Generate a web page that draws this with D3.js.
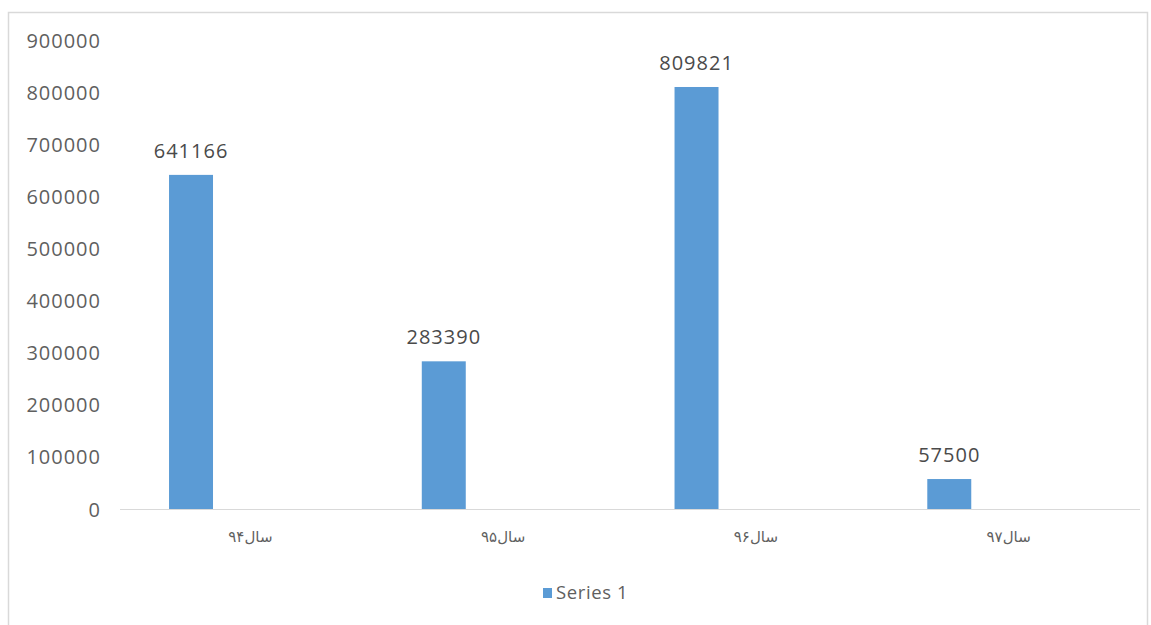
<!DOCTYPE html>
<html>
<head>
<meta charset="utf-8">
<script src="https://cdn.jsdelivr.net/npm/d3@7"></script>
<style>
  html, body { margin: 0; padding: 0; background: #ffffff; }
  svg { display: block; }
</style>
</head>
<body>
<svg id="chart" width="1151" height="625"></svg>
<script>
// Yearly totals (Persian calendar years)
const categories = ["سال۹۴", "سال۹۵", "سال۹۶", "سال۹۷"];
const seriesNames = ["Series 1"];
const seriesValues = [641166, 283390, 809821, 57500];
const tickValues = [0, 100000, 200000, 300000, 400000, 500000, 600000, 700000, 800000, 900000];

const H = 625;
const margin = { left: 120, top: 40, bottom: 116 };
const plotRight = 1131;
const barColor = "#5b9bd5";
const textColor = "#5f5f5f";
const font = "'Open Sans', 'Noto Sans', sans-serif";

const svg = d3.select("#chart");

// chart area frame
svg.append("rect")
  .attr("x", 8.5).attr("y", 12.5)
  .attr("width", 1139).attr("height", 640)
  .attr("fill", "#ffffff")
  .attr("stroke", "#d9d9d9").attr("stroke-width", 1.5);

const y = d3.scaleLinear()
  .domain([0, 900000])
  .range([H - margin.bottom, margin.top]);

const x = d3.scaleBand()
  .domain(categories)
  .range([margin.left, plotRight])
  .padding(0);

// bar slot inside each category band
const xInner = d3.scaleBand()
  .domain(seriesNames)
  .range([x.bandwidth() * 0.194, x.bandwidth() * 0.368])
  .padding(0);

// y axis labels (no axis line, no gridlines)
const yAxis = d3.axisLeft(y)
  .tickValues(tickValues)
  .tickSize(0)
  .tickPadding(0)
  .tickFormat(d3.format("d"));

const gy = svg.append("g")
  .attr("transform", `translate(101,0)`)
  .call(yAxis);
gy.select(".domain").remove();
gy.selectAll("text")
  .attr("fill", textColor)
  .attr("font-family", font)
  .attr("font-size", 20)
  .attr("letter-spacing", 1)
  .attr("dy", "0.35em");

// bars
const data = categories.map((c, i) => ({ cat: c, series: seriesNames[0], value: seriesValues[i] }));

svg.append("g").selectAll("rect")
  .data(data)
  .join("rect")
  .attr("x", d => x(d.cat) + xInner(d.series))
  .attr("width", xInner.bandwidth())
  .attr("y", d => y(d.value))
  .attr("height", d => y(0) - y(d.value))
  .attr("fill", barColor);

// value labels
svg.append("g").selectAll("text")
  .data(data)
  .join("text")
  .attr("x", d => x(d.cat) + xInner(d.series) + xInner.bandwidth() / 2)
  .attr("y", d => y(d.value) - 24)
  .attr("dy", "0.35em")
  .attr("text-anchor", "middle")
  .attr("fill", "#4a4a4a")
  .attr("font-family", font)
  .attr("font-size", 20)
  .attr("letter-spacing", 1)
  .text(d => d.value);

// x axis
const xAxis = d3.axisBottom(x).tickSize(0).tickPadding(0);
const gx = svg.append("g")
  .attr("transform", `translate(0,${y(0)})`)
  .call(xAxis);
gx.select(".domain").remove();
gx.selectAll("text")
  .attr("fill", textColor)
  .attr("font-family", "'Noto Sans', 'DejaVu Sans', sans-serif")
  .attr("font-size", 15)
  .attr("y", 28)
  .attr("dy", "0.35em")
  .attr("dx", 4);

svg.append("line")
  .attr("x1", margin.left).attr("x2", 1140)
  .attr("y1", y(0) + 0.5).attr("y2", y(0) + 0.5)
  .attr("stroke", "#d9d9d9").attr("stroke-width", 1.2);

// legend
const legend = svg.append("g").attr("transform", "translate(543,593)");
legend.selectAll("rect")
  .data(seriesNames)
  .join("rect")
  .attr("x", 0).attr("y", -5)
  .attr("width", 9).attr("height", 10)
  .attr("fill", barColor);
legend.selectAll("text")
  .data(seriesNames)
  .join("text")
  .attr("x", 13).attr("y", 0)
  .attr("dy", "0.35em")
  .attr("fill", textColor)
  .attr("font-family", font)
  .attr("font-size", 18.5)
  .attr("letter-spacing", 0.6)
  .text(d => d);
</script>
</body>
</html>
